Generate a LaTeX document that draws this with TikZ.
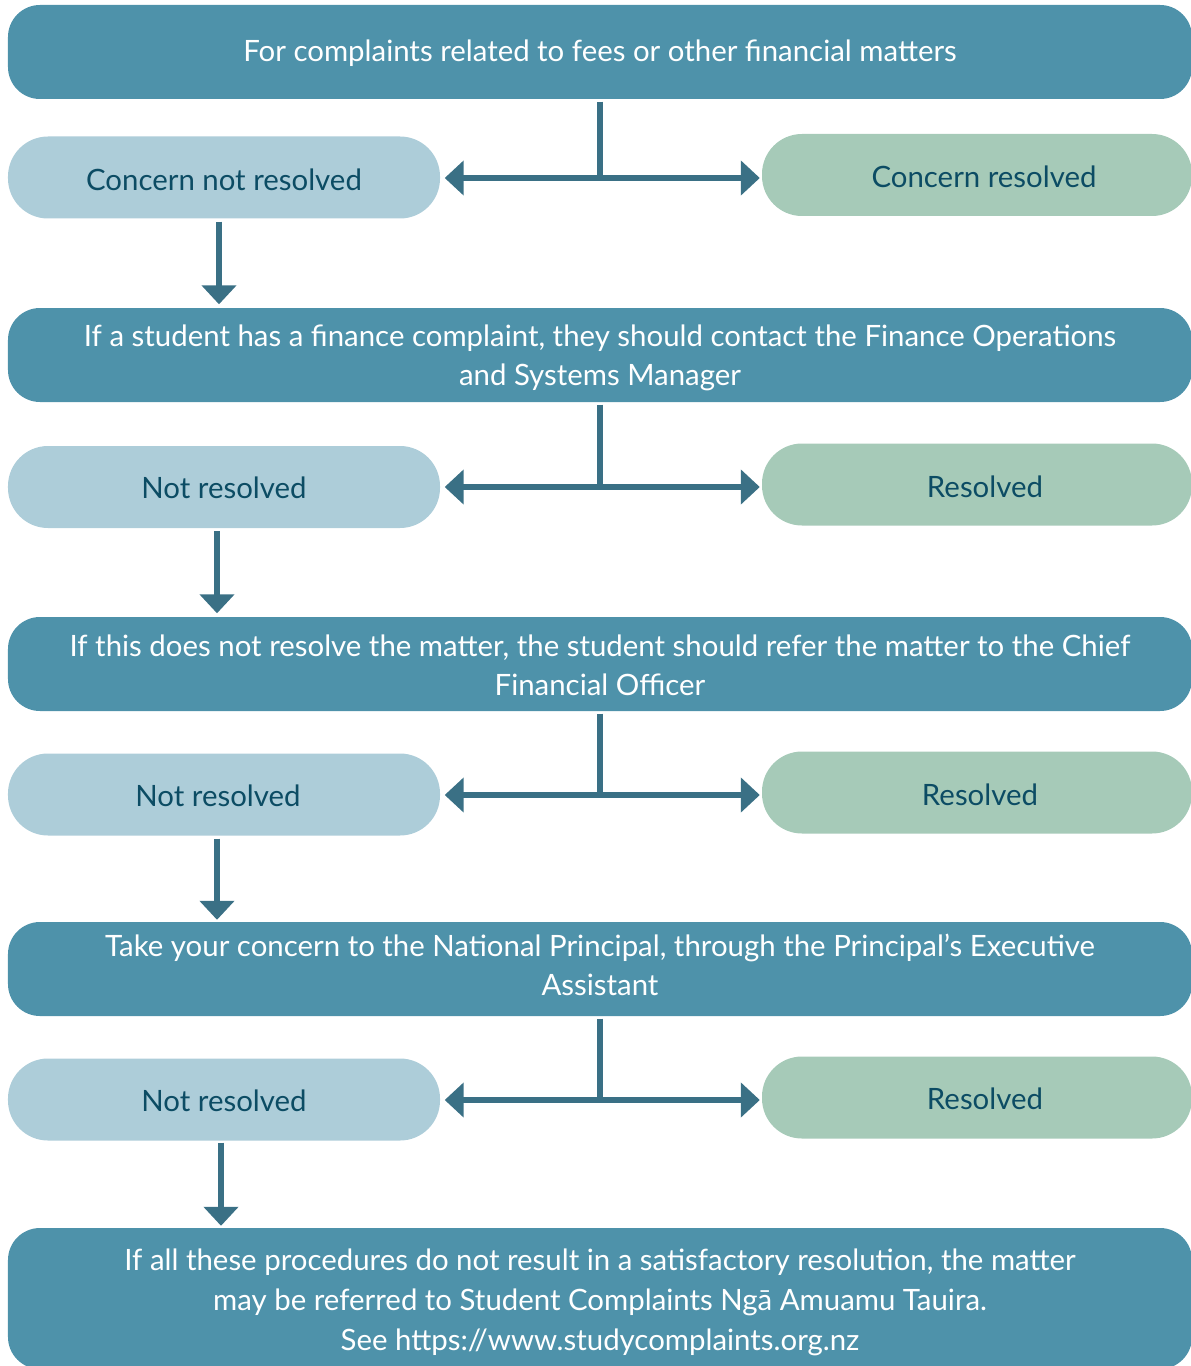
\documentclass[tikz,border=0pt]{standalone}
\usepackage{fontspec}
\setmainfont{Lato}
\usetikzlibrary{arrows.meta}
\definecolor{bannerc}{RGB}{78,146,170}
\definecolor{lightb}{RGB}{173,205,217}
\definecolor{greenc}{RGB}{166,202,184}
\definecolor{arrowc}{RGB}{58,112,133}
\definecolor{darkt}{RGB}{12,76,100}
\newcommand\mvtxt[2]{\raisebox{#1}[\height][\depth]{#2}}
\newcommand\mvlines[2]{\raisebox{#1}[\height][\depth]{\begin{tabular}{@{}c@{}}#2\end{tabular}}}
\begin{document}
\begin{tikzpicture}[x=1bp,y=-1bp,
  txt/.style={font=\fontsize{29.5}{40}\selectfont},
  banner/.style={txt,fill=bannerc,text=white,rounded corners=32bp,minimum width=1184bp,minimum height=94bp,inner sep=0pt},
  nobox/.style={txt,fill=lightb,text=darkt,rounded corners=40bp,minimum width=432bp,minimum height=82bp,inner sep=0pt},
  yesbox/.style={txt,fill=greenc,text=darkt,rounded corners=40bp,minimum width=430bp,minimum height=82bp,inner sep=0pt},
  conn/.style={draw=arrowc,line width=6bp},
  tipped/.style={-{Triangle[length=19bp,width=34bp]}}
]
\useasboundingbox (0,0) rectangle (1190,1366);

% banners
\node[banner] (b1) at (600,52) {\mvtxt{-1bp}{For complaints related to fees or other financial matters}};
\node[banner] (b2) at (600,355) {\mvlines{-3bp}{If a student has a finance complaint, they should contact the Finance Operations\\and Systems Manager}};
\node[banner] (b3) at (600,664) {\mvlines{-4bp}{If this does not resolve the matter, the student should refer the matter to the Chief\\Financial Officer}};
\node[banner] (b4) at (600,969) {\mvlines{1bp}{Take your concern to the National Principal, through the Principal’s Executive\\Assistant}};
\node[banner,minimum height=141bp] (b5) at (600,1298.5) {\mvlines{-4bp}{If all these procedures do not result in a satisfactory resolution, the matter\\may be referred to Student Complaints Ngā Amuamu Tauira.\\See https://www.studycomplaints.org.nz}};

% row boxes
\node[nobox] (n1) at (224,177.5) {\mvtxt{-2bp}{Concern not resolved}};
\node[yesbox] (r1) at (977,175) {\hspace*{14bp}\mvtxt{-2bp}{Concern resolved}};
\node[nobox] (n2) at (224,487) {\mvtxt{-1bp}{Not resolved}};
\node[yesbox] (r2) at (977,484.5) {\hspace*{16bp}\mvtxt{-2bp}{Resolved}};
\node[nobox] (n3) at (224,794.5) {\hspace*{-12bp}\mvtxt{-1bp}{Not resolved}};
\node[yesbox] (r3) at (977,792.5) {\hspace*{6bp}\mvtxt{-2bp}{Resolved}};
\node[nobox] (n4) at (224,1099.5) {\mvtxt{-1bp}{Not resolved}};
\node[yesbox] (r4) at (977,1097.5) {\hspace*{16bp}\mvtxt{-1bp}{Resolved}};

% junctions
\coordinate (j1) at (600,178);
\coordinate (j2) at (600,487);
\coordinate (j3) at (600,795);
\coordinate (j4) at (600,1100);

\foreach \b/\j/\n/\r in {b1/j1/n1/r1, b2/j2/n2/r2, b3/j3/n3/r3, b4/j4/n4/r4}{
  \draw[conn,shorten <=2.5bp] (\b.south -| \j) -- (\j);
  \draw[conn,tipped,shorten >=4.5bp] (\j) -- (\j -| \n.east);
  \draw[conn,tipped,shorten >=2bp] (\j) -- (\j -| \r.west);
}

% down arrows
\path ([xshift=-5bp]n1.south) coordinate (d1);
\path ([xshift=-7bp]n2.south) coordinate (d2);
\path ([xshift=-7bp]n3.south) coordinate (d3);
\path ([xshift=-3bp]n4.south) coordinate (d4);
\draw[conn,tipped,shorten <=3bp,shorten >=3.5bp] (d1) -- (d1 |- b2.north);
\draw[conn,tipped,shorten <=3bp,shorten >=3.5bp] (d2) -- (d2 |- b3.north);
\draw[conn,tipped,shorten <=3bp,shorten >=2bp] (d3) -- (d3 |- b4.north);
\draw[conn,tipped,shorten <=2bp,shorten >=2bp] (d4) -- (d4 |- b5.north);
\end{tikzpicture}
\end{document}
